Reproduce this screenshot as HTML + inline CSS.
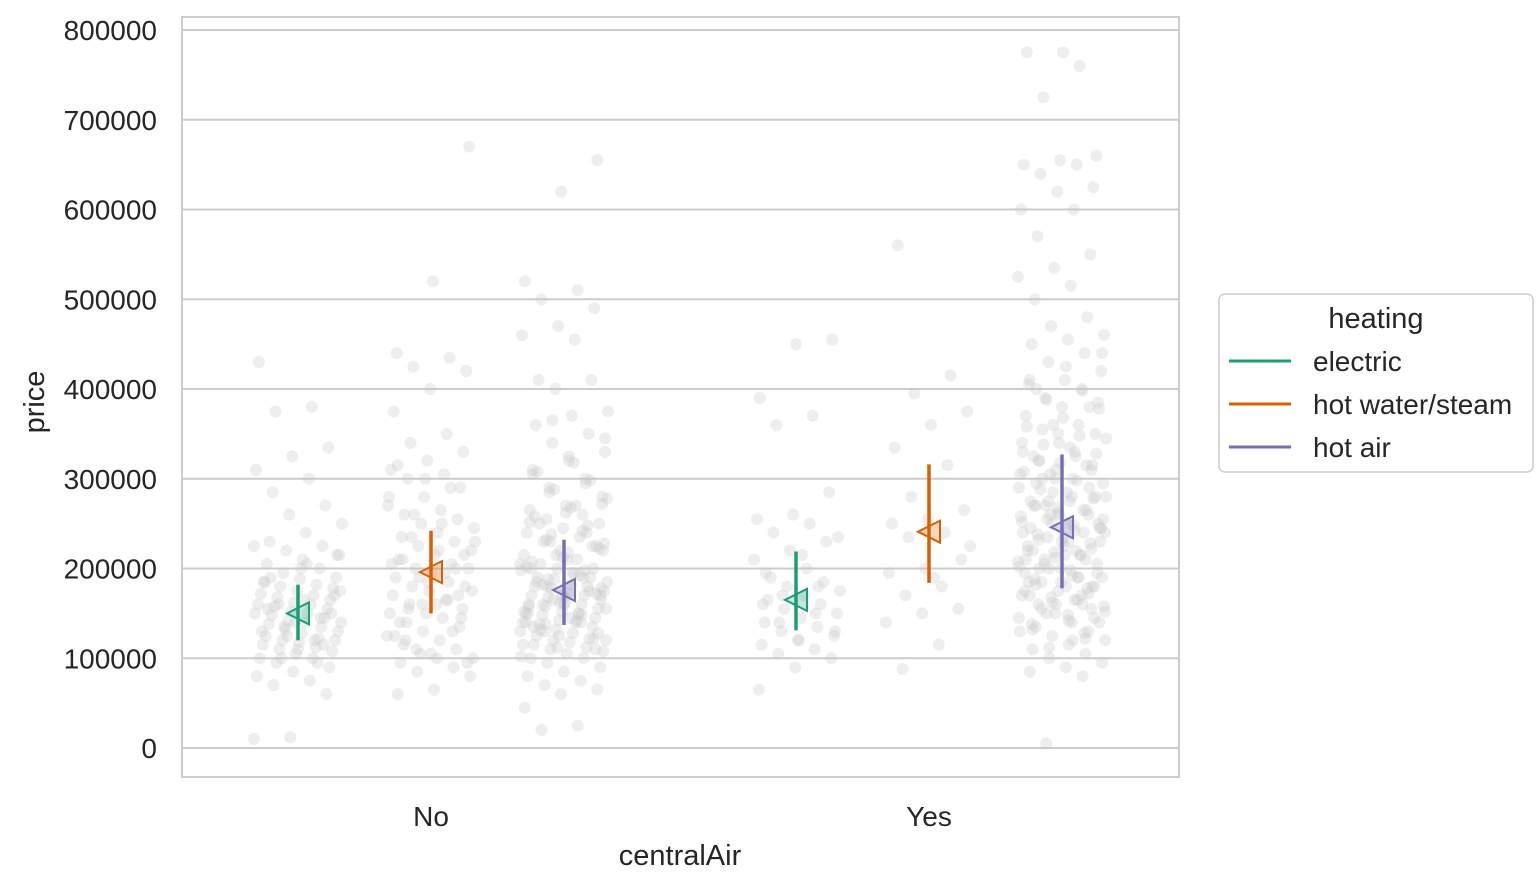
<!DOCTYPE html>
<html><head><meta charset="utf-8">
<style>
body{margin:0;background:#fff;}
svg text{font-family:"Liberation Sans",Arial,sans-serif;fill:#262626;}
</style></head><body>
<svg id="chart" width="1537" height="890" xmlns="http://www.w3.org/2000/svg">
<g id="grid"></g>
<g id="pts"></g>
<g id="marks"></g>
<rect x="182" y="17" width="997" height="760" fill="none" stroke="#cccccc" stroke-width="2"/>
<g id="yticks"></g>
<g id="xticks"></g>
<text x="680" y="865" font-size="29" text-anchor="middle">centralAir</text>
<text x="0" y="0" font-size="29" text-anchor="middle" transform="translate(44,402) rotate(-90)">price</text>
<g>
<rect x="1219" y="294" width="314" height="178" rx="6" fill="#fff" stroke="#cccccc" stroke-width="1.5"/>
<text x="1376" y="328" font-size="29" text-anchor="middle">heating</text>
<g id="leg"></g>
</g>
</svg>
<script>
const categories=["No","Yes"];
const hues=["electric","hot water/steam","hot air"];
const colors=["#1b9e77","#d95f02","#7570b3"];
const yTicks=[0,100000,200000,300000,400000,500000,600000,700000,800000];
const means=[[150000,196000,176000],[165000,241000,246000]];
const ciLow=[[120000,150000,137000],[131000,184000,178000]];
const ciHigh=[[182000,242000,232000],[219000,316000,327000]];
// sample prices (thousands) per group
const noElectric=[10,12,60,70,75,80,85,90,95,100,100,105,108,110,112,115,118,120,120,122,125,128,130,132,135,138,140,140,142,145,148,150,150,152,155,158,160,160,162,165,168,170,172,175,178,180,182,185,188,190,195,200,205,210,215,220,225,230,240,250,260,270,285,300,310,325,335,375,380,430,140,150,160,120,130,110,170,100,95,185,200,215,135,145,155,165,175,125,115,190,205,225];
const noHws=[60,65,80,85,90,95,100,100,105,110,115,120,125,130,135,140,145,150,150,155,160,165,170,175,180,180,185,190,195,200,200,205,210,215,220,225,230,235,240,245,250,255,260,265,270,280,290,300,305,310,320,330,340,350,375,400,420,425,435,440,520,670,110,130,140,160,175,190,200,210,220,230,160,170,120,250,280,300,145,155,195,205,185,215,235,165,125,105,95,260,290,315];
const noHotAir=[20,25,45,60,65,70,75,80,85,90,95,100,100,105,108,110,112,115,118,120,120,122,125,128,130,132,135,138,140,140,142,145,148,150,150,152,155,158,160,160,162,165,168,170,170,172,175,178,180,180,182,185,188,190,190,195,198,200,200,205,210,215,220,225,230,235,240,245,250,255,260,265,270,280,290,300,310,320,330,340,350,360,370,375,400,410,410,455,460,470,490,500,510,520,620,655,130,140,150,160,170,180,190,200,210,220,230,240,135,145,155,165,175,185,195,205,215,225,250,270,115,125,110,160,150,140,170,128,138,148,158,168,178,188,198,208,218,228,238,248,258,268,278,288,298,308,318,102,112,122,132,142,152,162,172,182,192,202,212,222,232,242,252,262,272,285,295,305,325,345,365];
const yesElectric=[65,90,100,105,110,115,120,125,130,135,140,145,150,155,160,165,170,175,180,185,190,200,210,220,230,240,250,255,260,285,360,370,390,450,455,140,150,160,120,130,170,180,195,215,235];
const yesHws=[88,115,140,150,155,170,180,195,200,210,235,240,250,255,265,280,315,335,360,375,395,415,560,190,225];
const yesHotAir=[5,80,85,90,95,100,105,110,115,120,125,130,135,140,145,150,155,160,165,170,175,180,185,190,195,200,205,210,215,220,225,230,235,240,245,250,255,260,265,270,275,280,285,290,295,300,305,310,315,320,325,330,340,350,355,360,370,380,385,390,400,405,410,420,430,440,450,455,460,470,480,500,515,525,535,550,570,600,600,620,625,640,650,650,655,660,725,760,775,775,140,150,160,170,180,190,200,210,220,230,240,250,260,270,280,290,300,310,320,330,340,350,145,155,165,175,185,195,205,215,225,235,245,255,265,275,285,295,305,315,325,335,345,360,380,400,120,130,160,180,200,220,240,260,280,300,190,210,230,250,270,170,185,215,245,275,128,138,148,158,168,178,188,198,208,218,228,238,248,258,268,278,288,298,308,318,328,338,348,358,368,378,388,398,410,425,440,112,122,132,142,152,162,172,182,192,202,212,222,232,242,252,262];
const groups=[[noElectric,noHws,noHotAir],[yesElectric,yesHws,yesHotAir]];
const NS="http://www.w3.org/2000/svg";
const y=v=>748-v*(718/800000);
const xc=c=>431+c*498;
const xh=(c,h)=>xc(c)+(h-1)*133;
function mk(tag,attrs,parent){const e=document.createElementNS(NS,tag);for(const k in attrs)e.setAttribute(k,attrs[k]);parent.appendChild(e);return e;}
const grid=document.getElementById('grid'),yt=document.getElementById('yticks');
yTicks.forEach(t=>{
  const l=mk('line',{x1:182,x2:1179,y1:y(t),y2:y(t),stroke:'#cccccc','stroke-width':2},grid);
  
  
  const tx=mk('text',{x:157,y:y(t)+10,'font-size':28,'text-anchor':'end'},yt);
  tx.textContent=String(t);
  
  
});
const xt=document.getElementById('xticks');
categories.forEach((c,i)=>{
  const tx=mk('text',{x:xc(i),y:826,'font-size':28,'text-anchor':'middle'},xt);
  tx.textContent=c;
  
  
});
const pts=document.getElementById('pts');
groups.forEach((g,c)=>g.forEach((arr,h)=>{
  arr.forEach((v,i)=>{
    const j=((i*37+h*11+c*7)%91)/90*2-1;
    const p=mk('circle',{cx:xh(c,h)+j*44,cy:y(v*1000),r:6,fill:'rgb(200,200,200)','fill-opacity':0.3},pts);
    
    
  });
}));
const marks=document.getElementById('marks');
means.forEach((row,c)=>row.forEach((m,h)=>{
  const x=xh(c,h);
  const l=mk('line',{x1:x,x2:x,y1:y(ciLow[c][h]),y2:y(ciHigh[c][h]),stroke:colors[h],'stroke-width':3.5},marks);
  
  
  const ym=y(m);
  const t=mk('polygon',{points:`${x-11},${ym} ${x+11},${ym-11} ${x+11},${ym+11}`,fill:colors[h],'fill-opacity':0.25,stroke:colors[h],'stroke-width':2},marks);
  
  
}));
const leg=document.getElementById('leg');
hues.forEach((n,i)=>{
  const yy=361+i*43;
  const l=mk('line',{x1:1229,x2:1291,y1:yy,y2:yy,stroke:colors[i],'stroke-width':3},leg);
  
  
  const t=mk('text',{x:1313,y:yy+10,'font-size':28},leg);
  t.textContent=n;
  
  
});
</script>
</body></html>
